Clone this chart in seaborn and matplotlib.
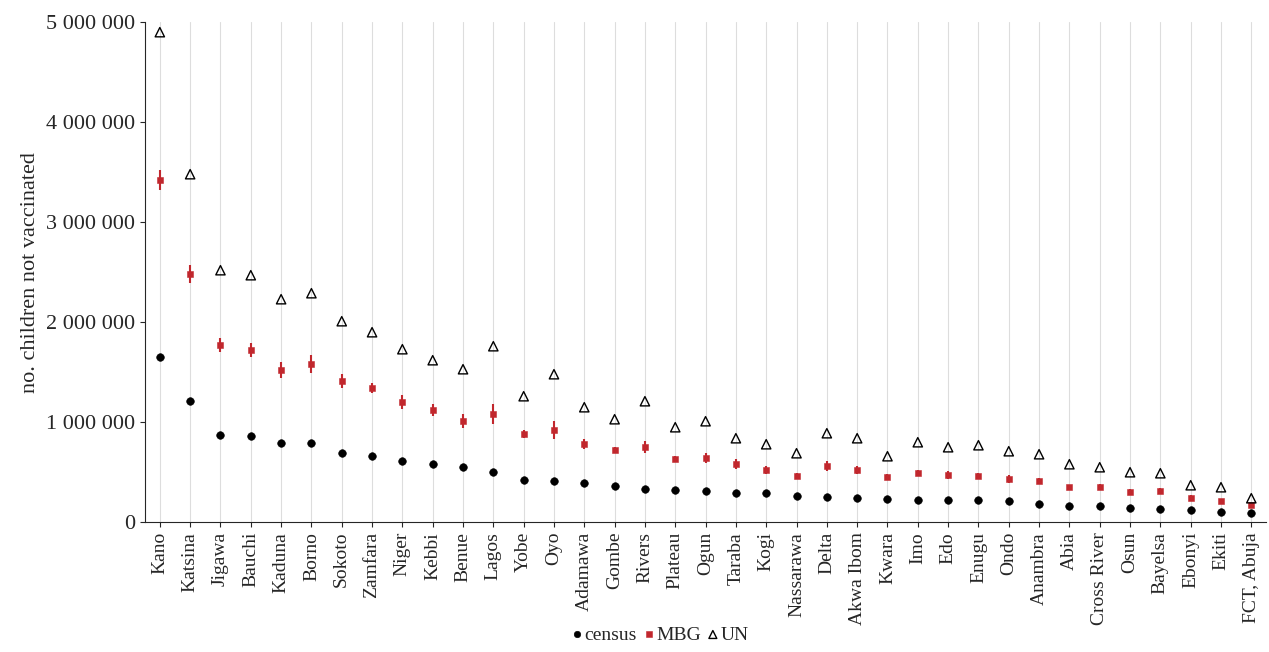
import numpy as np
import pandas as pd
import matplotlib
matplotlib.use("Agg")
import matplotlib.pyplot as plt
import matplotlib.ticker as mticker
import seaborn as sns

states = ["Kano", "Katsina", "Jigawa", "Bauchi", "Kaduna", "Borno", "Sokoto", "Zamfara",
          "Niger", "Kebbi", "Benue", "Lagos", "Yobe", "Oyo", "Adamawa", "Gombe", "Rivers",
          "Plateau", "Ogun", "Taraba", "Kogi", "Nassarawa", "Delta", "Akwa Ibom", "Kwara",
          "Imo", "Edo", "Enugu", "Ondo", "Anambra", "Abia", "Cross River", "Osun", "Bayelsa",
          "Ebonyi", "Ekiti", "FCT, Abuja"]
census = [1.65, 1.21, 0.87, 0.86, 0.79, 0.79, 0.69, 0.66, 0.61, 0.58, 0.55, 0.50, 0.42,
          0.41, 0.39, 0.36, 0.33, 0.32, 0.31, 0.29, 0.29, 0.26, 0.25, 0.24, 0.23, 0.22,
          0.22, 0.22, 0.21, 0.18, 0.16, 0.16, 0.14, 0.13, 0.12, 0.10, 0.09]
mbg = [3.42, 2.48, 1.77, 1.72, 1.52, 1.58, 1.41, 1.34, 1.20, 1.12, 1.01, 1.08, 0.88,
       0.92, 0.78, 0.72, 0.75, 0.63, 0.64, 0.58, 0.52, 0.46, 0.56, 0.52, 0.45, 0.49,
       0.47, 0.46, 0.43, 0.41, 0.35, 0.35, 0.30, 0.31, 0.24, 0.21, 0.17]
mbg_err = [0.10, 0.09, 0.07, 0.07, 0.08, 0.09, 0.07, 0.05, 0.07, 0.06, 0.07, 0.10, 0.04,
           0.09, 0.05, 0.03, 0.06, 0.03, 0.05, 0.05, 0.04, 0.03, 0.05, 0.04, 0.03, 0.03,
           0.04, 0.03, 0.04, 0.03, 0.02, 0.03, 0.03, 0.03, 0.03, 0.02, 0.02]
un = [4.90, 3.48, 2.52, 2.47, 2.23, 2.29, 2.01, 1.90, 1.73, 1.62, 1.53, 1.76, 1.26,
      1.48, 1.15, 1.03, 1.21, 0.95, 1.01, 0.84, 0.78, 0.69, 0.89, 0.84, 0.66, 0.80,
      0.75, 0.77, 0.71, 0.68, 0.58, 0.55, 0.50, 0.49, 0.37, 0.35, 0.24]

df = pd.DataFrame({"state": states,
                   "census": np.array(census) * 1e6,
                   "MBG": np.array(mbg) * 1e6,
                   "err": np.array(mbg_err) * 1e6,
                   "UN": np.array(un) * 1e6})
df["x"] = np.arange(len(states))

sns.set_style("ticks")
plt.rcParams["font.family"] = ["Liberation Serif", "DejaVu Serif"]

fig = plt.figure(figsize=(12.69, 6.52), dpi=100)
ax = fig.add_axes([0.114, 0.199, 0.884, 0.767])

ax.errorbar(df["x"], df["MBG"], yerr=df["err"], fmt="none", ecolor="#c1272d",
            elinewidth=1.5, capsize=0, zorder=2)
sns.scatterplot(data=df, x="x", y="census", ax=ax, color="black", marker="o",
                s=30, edgecolor="black", label="census", zorder=3)
sns.scatterplot(data=df, x="x", y="MBG", ax=ax, color="#c1272d", marker="s",
                s=22, edgecolor="#c1272d", label="MBG", zorder=3)
sns.scatterplot(data=df, x="x", y="UN", ax=ax, marker="^", s=45, facecolor="none",
                edgecolor="black", linewidth=1, label="UN", zorder=3)

ax.set_xlim(-0.5, len(states) - 0.5)
ax.set_ylim(0, 5e6)
ax.set_xticks(df["x"])
ax.set_xticklabels(states, rotation=90, fontsize=14)
ax.yaxis.set_major_locator(mticker.MultipleLocator(1e6))
ax.yaxis.set_major_formatter(mticker.FuncFormatter(lambda v, p: f"{int(v):,}".replace(",", " ")))
ax.tick_params(axis="y", labelsize=16)
ax.xaxis.grid(True, color="#dddddd", linewidth=0.8)
ax.set_axisbelow(True)
ax.set_xlabel("")
ax.set_ylabel("no. children not vaccinated", fontsize=16)
for s in ["top", "right"]:
    ax.spines[s].set_visible(False)

handles, labels = ax.get_legend_handles_labels()
ax.get_legend().remove()
fig.legend(handles, labels, loc="lower center", bbox_to_anchor=(0.52, -0.005), ncol=3,
           frameon=False, fontsize=14, handletextpad=0.1, handlelength=0.6,
           columnspacing=0.3, markerscale=0.85, borderpad=0.1)

fig.savefig("out.png", dpi=100)
